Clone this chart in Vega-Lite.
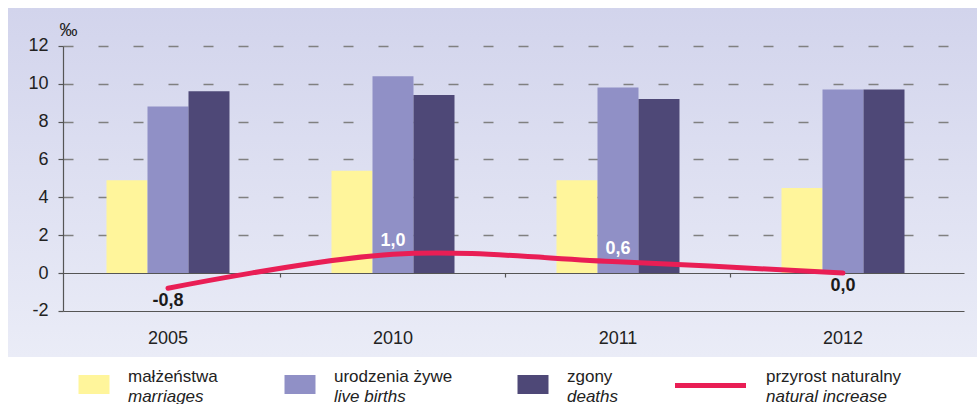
{
  "$schema": "https://vega.github.io/schema/vega-lite/v6.json",
  "padding": {"left": 8, "top": 8, "right": 0, "bottom": 0},
  "background": "#ffffff",
  "spacing": 0,
  "config": {
    "font": "Liberation Sans",
    "view": {"stroke": null},
    "locale": {"number": {"decimal": ",", "thousands": " ", "grouping": [3], "currency": ["", " zł"], "minus": "-"}}
  },
  "datasets": {
    "rates": [
      {"year": "2005", "series": "małżeństwa", "v": 4.9},
      {"year": "2005", "series": "urodzenia żywe", "v": 8.8},
      {"year": "2005", "series": "zgony", "v": 9.6},
      {"year": "2010", "series": "małżeństwa", "v": 5.4},
      {"year": "2010", "series": "urodzenia żywe", "v": 10.4},
      {"year": "2010", "series": "zgony", "v": 9.4},
      {"year": "2011", "series": "małżeństwa", "v": 4.9},
      {"year": "2011", "series": "urodzenia żywe", "v": 9.8},
      {"year": "2011", "series": "zgony", "v": 9.2},
      {"year": "2012", "series": "małżeństwa", "v": 4.5},
      {"year": "2012", "series": "urodzenia żywe", "v": 9.7},
      {"year": "2012", "series": "zgony", "v": 9.7}
    ],
    "ni": [
      {"year": "2005", "v": -0.8},
      {"year": "2010", "v": 1.0},
      {"year": "2011", "v": 0.6},
      {"year": "2012", "v": 0.0}
    ],
    "legend": [
      {"i": 0, "kind": "box", "series": "małżeństwa", "pl": "małżeństwa", "en": "marriages"},
      {"i": 1, "kind": "box", "series": "urodzenia żywe", "pl": "urodzenia żywe", "en": "live births"},
      {"i": 2, "kind": "box", "series": "zgony", "pl": "zgony", "en": "deaths"},
      {"i": 3, "kind": "line", "series": "przyrost naturalny", "pl": "przyrost naturalny", "en": "natural increase"}
    ]
  },
  "vconcat": [
    {
      "width": 969,
      "height": 349,
      "view": {
        "stroke": null,
        "fill": {"gradient": "linear", "x1": 0, "y1": 0, "x2": 0, "y2": 1,
          "stops": [{"offset": 0, "color": "#d2d4ec"}, {"offset": 1, "color": "#eaecf7"}]}
      },
      "resolve": {"axis": {"x": "independent"}},
      "layer": [
        {
          "data": {"name": "rates"},
          "mark": {"type": "bar"},
          "encoding": {
            "x": {
              "field": "year", "type": "nominal", "sort": ["2005", "2010", "2011", "2012"],
              "scale": {"paddingInner": 0.4533, "paddingOuter": 0.38, "align": 0.576},
              "axis": {
                "orient": "bottom", "offset": -46, "title": null,
                "domainColor": "#555555", "domainWidth": 1.2, "domainDash": [0, 55, 901, 200],
                "ticks": false, "tickSize": 0, "labelPadding": 32.5, "labelFontSize": 18,
                "labelColor": "#222222", "labelAngle": 0, "labelBaseline": "alphabetic", "grid": false
              }
            },
            "xOffset": {
              "field": "series", "type": "nominal",
              "sort": ["małżeństwa", "urodzenia żywe", "zgony"],
              "scale": {"paddingInner": 0, "paddingOuter": 0}
            },
            "y": {
              "field": "v", "type": "quantitative",
              "scale": {"domain": [-4.43, 14.0], "nice": false, "zero": false},
              "axis": {
                "orient": "left", "offset": -55, "values": [-2, 0, 2, 4, 6, 8, 10, 12],
                "title": "‰", "titleAngle": 0, "titleAlign": "left", "titleBaseline": "alphabetic",
                "titleX": -4, "titleY": 27, "titleFontSize": 18, "titleFontWeight": "normal",
                "titleColor": "#222222", "titlePadding": 0,
                "labelFontSize": 18, "labelColor": "#222222", "labelPadding": 10,
                "tickSize": 5, "tickColor": "#555555", "tickWidth": 1.2,
                "domainColor": "#555555", "domainWidth": 1.2, "domainDash": [0, 46, 265, 200],
                "grid": true, "gridColor": "#808080", "gridWidth": 1.5,
                "gridDash": [0, 55, 10, 25, 10, 25, 10, 25, 10, 25, 10, 25, 10, 25, 10, 25, 10, 25, 10, 25, 10, 25, 10, 25, 10, 25, 10, 25, 10, 25, 10, 25, 10, 25, 10, 25, 10, 25, 10, 25, 10, 25, 10, 25, 10, 25, 10, 25, 10, 25, 10, 25, 10, 200],
                "gridOpacity": {"condition": {"test": "datum.value < 1", "value": 0}, "value": 1}
              }
            },
            "color": {
              "field": "series", "type": "nominal",
              "scale": {"domain": ["małżeństwa", "urodzenia żywe", "zgony"], "range": ["#fff59b", "#9090c6", "#4e4877"]},
              "legend": null
            }
          }
        },
        {
          "data": {"name": "ni"},
          "mark": {"type": "line", "interpolate": "cardinal", "tension": 0, "strokeWidth": 5, "color": "#e91e55", "strokeCap": "round"},
          "encoding": {
            "x": {
              "field": "year", "type": "nominal", "sort": ["2005", "2010", "2011", "2012"],
              "axis": {
                "orient": "bottom", "offset": -84, "title": null, "labels": false,
                "domainColor": "#555555", "domainWidth": 1.2, "domainDash": [0, 55, 901, 200],
                "ticks": true, "tickSize": 4, "tickColor": "#555555", "tickWidth": 1.2,
                "values": ["2010", "2011", "2012"], "bandPosition": -0.415, "grid": false
              }
            },
            "y": {"field": "v", "type": "quantitative", "scale": {"domain": [-4.43, 14.0], "nice": false, "zero": false}}
          }
        },
        {
          "data": {"name": "ni"},
          "transform": [{"filter": "datum.v <= 0"}],
          "mark": {"type": "text", "fontSize": 18, "fontWeight": "bold", "color": "#1a1a1a", "dy": 18, "baseline": "alphabetic", "align": "center"},
          "encoding": {
            "x": {"field": "year", "type": "nominal", "sort": ["2005", "2010", "2011", "2012"], "axis": null},
            "y": {"field": "v", "type": "quantitative", "scale": {"domain": [-4.43, 14.0], "nice": false, "zero": false}},
            "text": {"field": "v", "type": "quantitative", "format": ".1f"}
          }
        },
        {
          "data": {"name": "ni"},
          "transform": [{"filter": "datum.v > 0"}],
          "mark": {"type": "text", "fontSize": 18, "fontWeight": "bold", "color": "#ffffff", "dy": -8, "baseline": "alphabetic", "align": "center"},
          "encoding": {
            "x": {"field": "year", "type": "nominal", "sort": ["2005", "2010", "2011", "2012"], "axis": null},
            "y": {"field": "v", "type": "quantitative", "scale": {"domain": [-4.43, 14.0], "nice": false, "zero": false}},
            "text": {"field": "v", "type": "quantitative", "format": ".1f"}
          }
        }
      ]
    },
    {
      "width": 969,
      "height": 47,
      "data": {"name": "legend"},
      "layer": [
        {
          "transform": [{"filter": "datum.kind == 'box'"}],
          "mark": {"type": "point", "shape": "M-1,-0.613L1,-0.613L1,0.613L-1,0.613Z", "size": 961, "filled": true, "opacity": 1, "xOffset": -34, "yOffset": 4},
          "encoding": {
            "x": {"field": "i", "type": "quantitative", "scale": {"domain": [0, 1, 2, 3], "range": [120, 326, 559, 758]}, "axis": null},
            "color": {
              "field": "series", "type": "nominal",
              "scale": {"domain": ["małżeństwa", "urodzenia żywe", "zgony"], "range": ["#fff59b", "#9090c6", "#4e4877"]},
              "legend": null
            }
          }
        },
        {
          "transform": [{"filter": "datum.kind == 'line'"}],
          "mark": {"type": "point", "shape": "stroke", "size": 5041, "filled": false, "strokeWidth": 5, "color": "#e91e55", "opacity": 1, "xOffset": -55.5, "yOffset": 5},
          "encoding": {
            "x": {"field": "i", "type": "quantitative", "scale": {"domain": [0, 1, 2, 3], "range": [120, 326, 559, 758]}, "axis": null}
          }
        },
        {
          "mark": {"type": "text", "fontSize": 17, "color": "#222222", "align": "left", "baseline": "alphabetic", "dy": 1.5},
          "encoding": {
            "x": {"field": "i", "type": "quantitative", "scale": {"domain": [0, 1, 2, 3], "range": [120, 326, 559, 758]}, "axis": null},
            "text": {"field": "pl"}
          }
        },
        {
          "mark": {"type": "text", "fontSize": 17, "fontStyle": "italic", "color": "#222222", "align": "left", "baseline": "alphabetic", "dy": 21},
          "encoding": {
            "x": {"field": "i", "type": "quantitative", "scale": {"domain": [0, 1, 2, 3], "range": [120, 326, 559, 758]}, "axis": null},
            "text": {"field": "en"}
          }
        }
      ]
    }
  ]
}
